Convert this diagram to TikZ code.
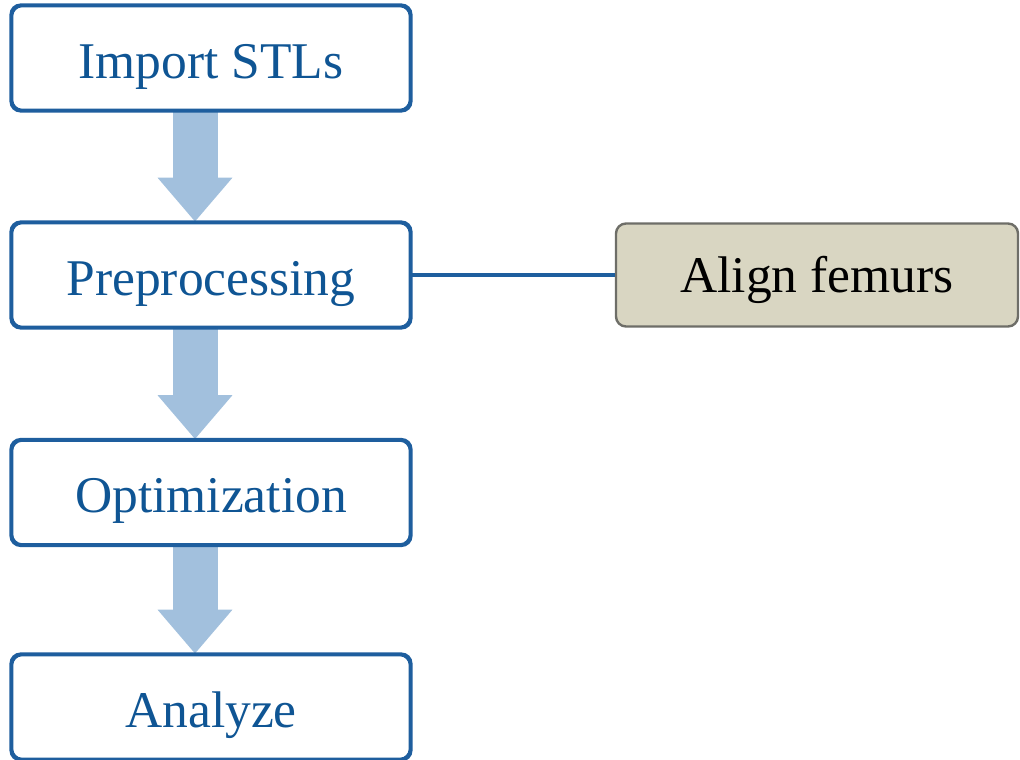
\documentclass[tikz,border=0pt]{standalone}
\usepackage{fontspec}
\setmainfont{Liberation Serif}
\usetikzlibrary{arrows.meta}
\definecolor{stepblue}{HTML}{1E5E9E}
\definecolor{steptext}{HTML}{0F5594}
\definecolor{flowblue}{HTML}{A2C0DD}
\definecolor{sidefill}{HTML}{D9D6C2}
\definecolor{sideedge}{HTML}{6E6E68}
\begin{document}
\begin{tikzpicture}[x=1pt,y=-1pt,
  stepbox/.style={draw=stepblue, line width=2.6pt, rounded corners=10pt, fill=white,
    minimum width=398pt, minimum height=104pt, inner sep=0pt,
    text height=51pt, text depth=11pt,
    text=steptext, font=\fontsize{51.5}{60}\selectfont},
  sidebox/.style={draw=sideedge, line width=2.4pt, rounded corners=10pt, fill=sidefill,
    minimum width=402pt, minimum height=103pt, inner sep=0pt,
    text height=45pt, text depth=11pt,
    text=black, font=\fontsize{51.5}{60}\selectfont},
  flow/.style={draw=flowblue, line width=45pt,
    -{Triangle[width=72pt,length=44pt]}, shorten <=-1pt},
  link/.style={draw=stepblue, line width=3.4pt}]
  \useasboundingbox (0,0) rectangle (1020,760);

  % main pipeline
  \node[stepbox] (imp) at (211,58) {Import STLs};
  \node[stepbox] (pre) at (211,275) {Preprocessing};
  \node[stepbox] (opt) at (211,492.5) {Optimization};
  \node[stepbox] (ana) at (211,707) {Analyze};

  % side step
  \node[sidebox] (ali) at (817,275) {Align femurs};

  % flow arrows between steps
  \draw[flow] ([xshift=-16pt]imp.south) -- ([xshift=-16pt]pre.north);
  \draw[flow] ([xshift=-16pt]pre.south) -- ([xshift=-16pt]opt.north);
  \draw[flow] ([xshift=-16pt]opt.south) -- ([xshift=-16pt]ana.north);

  % redraw the boxes' outlines over the arrow ends
  \foreach \n in {imp,pre,opt,ana}
    \draw[draw=stepblue, line width=2.6pt, rounded corners=10pt]
      (\n.south west) rectangle (\n.north east);

  \draw[link] (pre.east) -- (ali.west);
\end{tikzpicture}
\end{document}
